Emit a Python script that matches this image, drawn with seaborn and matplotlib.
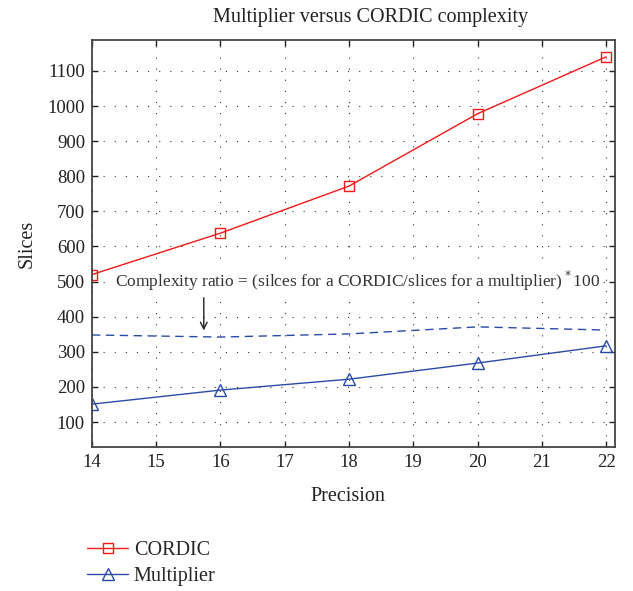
import matplotlib
matplotlib.use("Agg")
import matplotlib.pyplot as plt
import seaborn as sns
import pandas as pd

precision = [14, 16, 18, 20, 22]
cordic = [520, 638, 772, 978, 1140]
multiplier = [151, 191, 222, 268, 317]
ratio = [348, 342, 351, 371, 362]
xticks = [14, 15, 16, 17, 18, 19, 20, 21, 22]
yticks = [100, 200, 300, 400, 500, 600, 700, 800, 900, 1000, 1100]

sns.set_theme(style="white")
plt.rcParams['font.family'] = ['Liberation Serif', 'DejaVu Serif']

fig = plt.figure(figsize=(6.33, 5.91), dpi=100)
ax = fig.add_axes([0.1453, 0.2437, 0.8263, 0.6886])

red = "#f01818"
blue = "#2a4aa8"

sns.lineplot(x=precision, y=cordic, ax=ax, color=red, marker="s", markersize=7,
             markerfacecolor="none", markeredgecolor=red, markeredgewidth=1.0,
             linewidth=1.0, label="CORDIC")
sns.lineplot(x=precision, y=multiplier, ax=ax, color=blue, marker="^", markersize=8,
             markerfacecolor="none", markeredgecolor=blue, markeredgewidth=1.0,
             linewidth=1.0, label="Multiplier")
sns.lineplot(x=precision, y=ratio, ax=ax, color=blue, linewidth=1.0,
             linestyle=(0, (6, 4)), label="_ratio")

ax.set_xlim(14, 22.14)
ax.set_ylim(29, 1188)
ax.set_xticks(xticks)
ax.set_yticks(yticks)
ax.tick_params(direction="in", length=4, width=1, labelsize=13.5, colors="#222222",
               top=True, right=True, bottom=True, left=True, pad=5)
for lbl in ax.get_xticklabels() + ax.get_yticklabels():
    lbl.set_color("#222222")
for s in ax.spines.values():
    s.set_color("#444444")
    s.set_linewidth(1.3)
ax.grid(True, color="#333333", linestyle=(0, (1, 9)), linewidth=0.8)

ax.set_xlabel("Precision", fontsize=14.5, color="#222222")
ax.xaxis.set_label_coords(0.489, -0.098)
ax.set_ylabel("Slices", fontsize=14.5, color="#222222", labelpad=8)
ax.set_title("Multiplier versus CORDIC complexity", fontsize=14.5, color="#222222",
             pad=13, x=0.533)

ax.text(14.36, 502, "Complexity ratio = (silces for a CORDIC/slices for a multiplier)$^*$100",
        fontsize=12.5, color="#333333", va="center", ha="left",
        bbox=dict(facecolor="white", edgecolor="none", pad=0.5))
ax.annotate("", xy=(15.74, 353), xytext=(15.74, 462),
            arrowprops=dict(arrowstyle="->", color="#222222", lw=1.0))

handles, labels = ax.get_legend_handles_labels()
ax.legend(handles[:2], labels[:2], loc="upper left", bbox_to_anchor=(-0.024, -0.21),
          frameon=False, fontsize=14.5, handlelength=2.0, handletextpad=0.3,
          labelspacing=0.35, borderaxespad=0)

fig.savefig("out.png", dpi=100)
